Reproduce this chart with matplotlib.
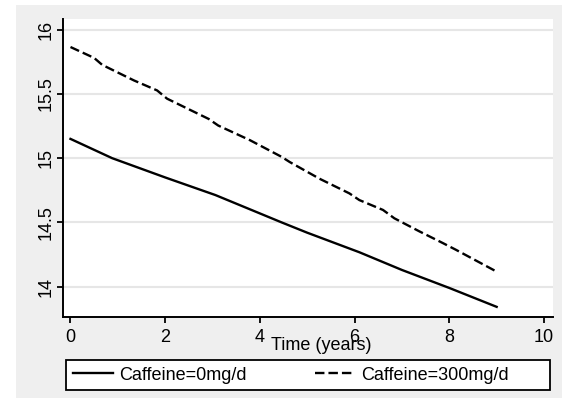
import matplotlib
matplotlib.use("Agg")
import matplotlib.pyplot as plt
from matplotlib.patches import Rectangle

plt.rcParams['font.family'] = ['Liberation Sans', 'DejaVu Sans']

# Predicted outcome over time for two caffeine intake levels
time_0mg = [0, 0.88, 2.0, 3.06, 4.0, 4.46, 5.0, 6.1, 7.0, 8.0, 9.0]
value_0mg = [15.15, 15.0, 14.85, 14.713, 14.57, 14.50, 14.42, 14.268, 14.13, 13.99, 13.843]

time_300mg = [0, 0.5, 0.67, 1.34, 1.83, 2.04, 2.92, 3.12, 3.79, 4.46, 4.63,
              5.26, 5.89, 6.1, 6.6, 6.84, 7.37, 7.86, 8.14, 9.0]
value_300mg = [15.865, 15.78, 15.726, 15.605, 15.527, 15.463, 15.305, 15.254,
               15.14, 15.01, 14.97, 14.84, 14.726, 14.674, 14.597, 14.532,
               14.43, 14.34, 14.287, 14.117]

x_ticks = [0, 2, 4, 6, 8, 10]
y_ticks = [14, 14.5, 15, 15.5, 16]
y_tick_labels = ["14", "14.5", "15", "15.5", "16"]
series_labels = ["Caffeine=0mg/d", "Caffeine=300mg/d"]
x_title = "Time (years)"

W, H = 562, 401
fig = plt.figure(figsize=(W / 100, H / 100), dpi=100)
fig.patch.set_facecolor("white")

# outer shaded graph region, behind everything
fig.patches.append(Rectangle((16 / W, 3 / H), 546 / W, 393 / H,
                             transform=fig.transFigure, facecolor="#efefef",
                             edgecolor="none", zorder=-10))

ax = fig.add_axes([63 / W, 84 / H, 490 / W, 298 / H])
ax.set_facecolor("white")

line0, = ax.plot(time_0mg, value_0mg, color="black", lw=1.7,
                 solid_joinstyle="round", label=series_labels[0])
line300, = ax.plot(time_300mg, value_300mg, color="black", lw=1.7,
                   dashes=(4, 1.7), label=series_labels[1])

ax.set_xlim(-0.158, 10.19)
ax.set_ylim(13.764, 16.083)
ax.set_xticks(x_ticks)
ax.set_yticks(y_ticks)
ax.set_yticklabels(y_tick_labels, rotation=90, va="center")

ax.grid(axis="y", color="#e6e6e6", lw=1.5)
ax.set_axisbelow(True)

for side in ("top", "right"):
    ax.spines[side].set_visible(False)
for side in ("left", "bottom"):
    ax.spines[side].set_linewidth(1.4)
    ax.spines[side].set_color("black")

ax.tick_params(axis="both", direction="out", length=4, width=1.3,
               labelsize=13, colors="black")
ax.tick_params(axis="y", pad=2)
ax.tick_params(axis="x", pad=5)

ax.set_xlabel(x_title, fontsize=13)
ax.xaxis.set_label_coords((321 - 63) / 490, (317 - 337) / 298)

# legend box with two keys side by side
fig.patches.append(Rectangle((66 / W, 11 / H), 484 / W, 30 / H,
                             transform=fig.transFigure, facecolor="white",
                             edgecolor="black", linewidth=1.3, zorder=5))
for handle, x_px in ((line0, 73), (line300, 315)):
    fig.legend(handles=[handle], loc="center left",
               bbox_to_anchor=(x_px / W, 26 / H),
               bbox_transform=fig.transFigure, frameon=False,
               fontsize=13, handlelength=2.2, handletextpad=0.35,
               borderpad=0, borderaxespad=0).set_zorder(6)

fig.savefig("out.png", dpi=100, facecolor="white")
